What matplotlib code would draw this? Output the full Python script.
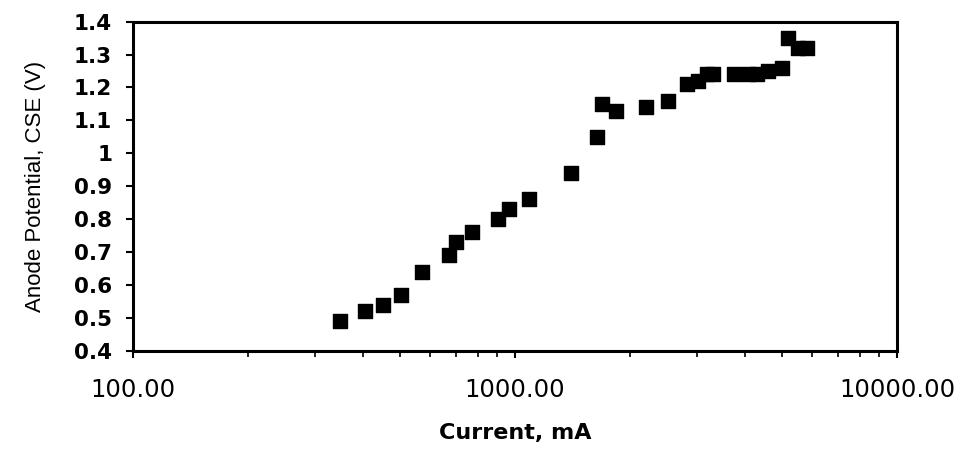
import matplotlib.pyplot as plt
from matplotlib.ticker import FixedLocator, NullFormatter, LogLocator

# Current (mA) and anode potential (V, CSE)
current_ma = [348, 406, 450, 503, 570, 672, 702, 774, 901, 964,
              1089, 1400, 1637, 1690, 1841, 2203, 2518, 2825, 3021, 3178,
              3303, 3750, 4082, 4298, 4605, 4991, 5177, 5496, 5800]
potential_v = [0.49, 0.52, 0.54, 0.57, 0.64, 0.69, 0.73, 0.76, 0.80, 0.83,
               0.86, 0.94, 1.05, 1.15, 1.13, 1.14, 1.16, 1.21, 1.22, 1.24,
               1.24, 1.24, 1.24, 1.24, 1.25, 1.26, 1.35, 1.32, 1.32]

x_ticks = [100, 1000, 10000]
x_tick_labels = ['100.00', '1000.00', '10000.00']
y_ticks = [0.4, 0.5, 0.6, 0.7, 0.8, 0.9, 1.0, 1.1, 1.2, 1.3, 1.4]
y_tick_labels = ['0.4', '0.5', '0.6', '0.7', '0.8', '0.9', '1', '1.1', '1.2', '1.3', '1.4']

fig = plt.figure(figsize=(9.65, 4.49), dpi=100)
ax = fig.add_axes([0.1378, 0.219, 0.7917, 0.7327])

ax.scatter(current_ma, potential_v, marker='s', s=95, color='black', zorder=3)

ax.set_xscale('log')
ax.set_xlim(100, 10000)
ax.set_ylim(0.4, 1.4)

ax.xaxis.set_major_locator(FixedLocator(x_ticks))
ax.set_xticklabels(x_tick_labels, fontsize=17.5, family='DejaVu Sans')
ax.xaxis.set_minor_locator(LogLocator(base=10, subs=range(2, 10)))
ax.xaxis.set_minor_formatter(NullFormatter())
ax.set_yticks(y_ticks)
ax.set_yticklabels(y_tick_labels, fontsize=15.5, family='DejaVu Sans', fontweight='bold')

ax.tick_params(axis='x', which='major', direction='out', length=5, width=1.5, pad=15)
ax.tick_params(axis='x', which='minor', direction='out', length=4, width=1.2)
ax.tick_params(axis='y', which='major', direction='out', length=5, width=1.5, pad=10)

for sp in ax.spines.values():
    sp.set_linewidth(2.2)

ax.set_xlabel('Current, mA', fontsize=16, fontweight='bold', family='DejaVu Sans', labelpad=15)
ax.set_ylabel('Anode Potential, CSE (V)', fontsize=16,
              family='Liberation Sans', labelpad=20)

fig.savefig('out.png', dpi=100)
